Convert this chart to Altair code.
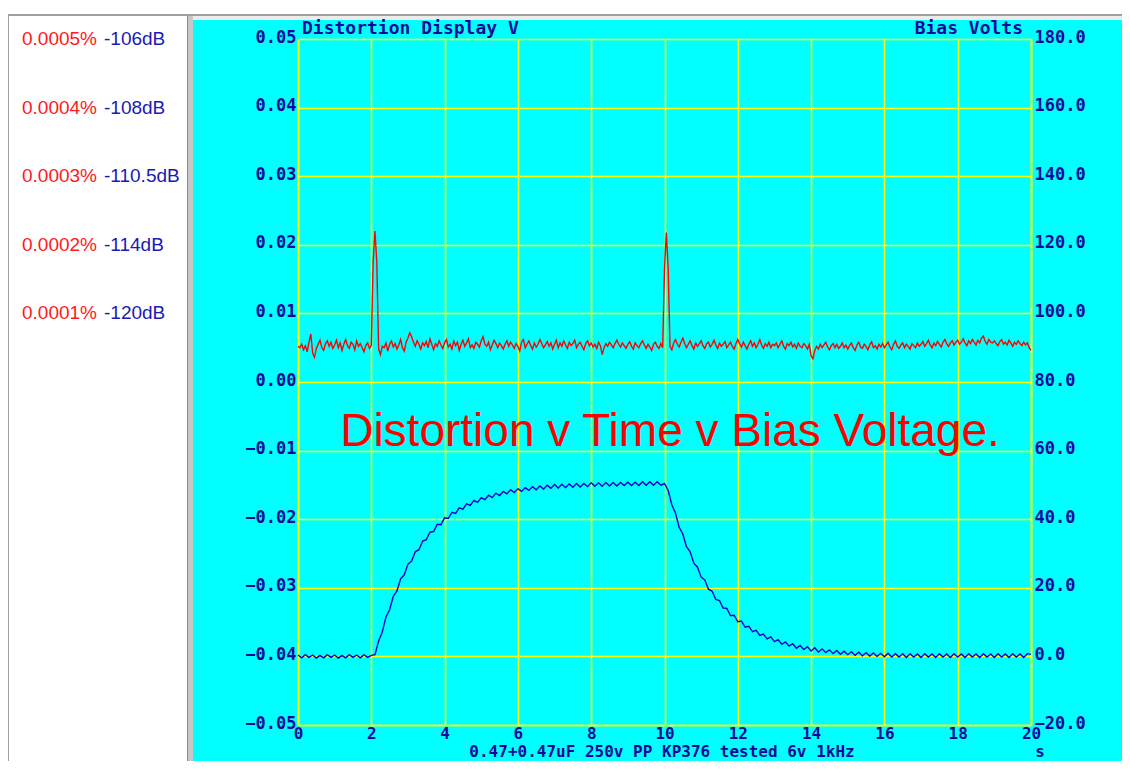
import altair as alt
import pandas as pd

# ---------------- data ----------------
# Distortion trace (left axis, volts) sampled every 0.05 s, in units of 0.1 mV
red_step = 0.05
red_tenth_mv = [
    52, 50, 55, 47, 53, 44, 58, 70, 42, 36, 49, 55, 61, 50, 46, 56, 60, 52, 58, 49,
    54, 61, 50, 57, 46, 55, 62, 53, 49, 58, 55, 47, 60, 52, 56, 50, 44, 53, 57, 49,
    53, 175, 220, 175, 48, 40, 52, 50, 57, 45, 55, 60, 51, 56, 48, 54, 62, 50, 45, 58,
    64, 72, 66, 58, 52, 60, 55, 48, 57, 53, 59, 50, 63, 55, 47, 56, 52, 60, 54, 49,
    57, 62, 51, 55, 48, 60, 53, 58, 46, 55, 61, 52, 57, 63, 50, 54, 49, 58, 55, 51,
    60, 66, 55, 52, 58, 47, 54, 61, 56, 50, 57, 53, 48, 55, 60, 52, 58, 54, 49, 56,
    52, 45, 58, 62, 50, 55, 60, 53, 48, 57, 51, 55, 62, 56, 50, 54, 59, 52, 57, 48,
    55, 61, 50, 57, 52, 60, 54, 49, 58, 53, 56, 61, 50, 55, 58, 52, 47, 56, 60, 53,
    57, 51, 55, 49, 58, 53, 40, 50, 56, 52, 58, 54, 50, 56, 61, 55, 51, 57, 53, 49,
    55, 59, 52, 48, 57, 53, 50, 56, 60, 54, 49, 55, 51, 46, 55, 58, 52, 49, 56, 50,
    165, 218, 165, 52, 47, 57, 62, 55, 51, 58, 64, 56, 50, 55, 60, 53, 48, 57, 52, 56,
    60, 53, 49, 56, 58, 51, 55, 61, 54, 49, 57, 52, 55, 59, 50, 54, 58, 52, 48, 56,
    62, 56, 51, 58, 53, 48, 55, 60, 52, 57, 50, 55, 62, 54, 49, 56, 52, 58, 50, 55,
    53, 57, 50, 55, 60, 52, 48, 56, 53, 58, 51, 55, 49, 57, 52, 50, 56, 53, 48, 55,
    38, 34, 46, 52, 48, 55, 50, 54, 58, 51, 47, 53, 56, 50, 55, 49, 52, 57, 50, 54,
    48, 53, 57, 50, 46, 54, 58, 51, 49, 55, 52, 47, 54, 59, 50, 53, 48, 55, 51, 56,
    50, 54, 58, 51, 47, 55, 60, 52, 49, 54, 57, 50, 55, 52, 48, 56, 53, 50, 57, 52,
    55, 59, 52, 56, 61, 54, 50, 57, 53, 59, 55, 51, 58, 62, 56, 52, 57, 60, 54, 58,
    61, 55, 58, 63, 57, 53, 60, 56, 62, 58, 54, 61, 57, 64, 67, 59, 55, 62, 58, 57,
    60, 56, 53, 59, 62, 55, 58, 54, 61, 57, 52, 58, 55, 60, 56, 53, 58, 54, 57, 50,
    46,
]

# Bias voltage trace (right axis, volts) sampled every 0.1 s
blue_step = 0.1
blue_volts = [
    0.4, -0.4, 0.5, -0.3, 0.4, -0.5, 0.3, -0.4, 0.5, -0.3,
    0.4, -0.5, 0.3, -0.4, 0.5, -0.3, 0.4, -0.4, 0.5, -0.3,
    0.3, 0.5, 4.5, 7.1, 11.5, 13.6, 17.5, 19.1, 22.6, 23.8,
    26.9, 27.8, 30.5, 31.1, 33.6, 34.0, 36.2, 36.4, 38.5, 38.4,
    40.4, 40.2, 42.0, 41.7, 43.3, 42.9, 44.5, 44.0, 45.5, 44.9,
    46.3, 45.7, 47.0, 46.3, 47.6, 46.9, 48.1, 47.4, 48.6, 47.8,
    48.9, 48.1, 49.2, 48.4, 49.5, 48.6, 49.7, 48.8, 49.9, 49.0,
    50.1, 49.1, 50.2, 49.2, 50.3, 49.3, 50.4, 49.4, 50.4, 49.5,
    50.6, 49.6, 50.6, 49.6, 50.7, 49.7, 50.7, 49.7, 50.7, 49.8,
    50.8, 49.8, 50.8, 49.8, 50.9, 49.9, 50.9, 49.9, 50.9, 49.9,
    50.4, 48.4, 44.2, 41.8, 37.6, 35.7, 32.0, 30.5, 27.2, 26.0,
    23.1, 22.3, 19.6, 19.0, 16.6, 16.3, 14.1, 14.0, 11.9, 12.0,
    10.1, 10.3, 8.5, 8.8, 7.2, 7.6, 6.1, 6.5, 5.1, 5.7,
    4.3, 4.9, 3.5, 4.2, 3.0, 3.7, 2.4, 3.2, 2.0, 2.8,
    1.6, 2.5, 1.3, 2.2, 1.1, 1.9, 0.8, 1.7, 0.6, 1.5,
    0.5, 1.4, 0.3, 1.2, 0.2, 1.1, 0.1, 1.0, 0.0, 0.9,
    -0.1, 0.9, -0.2, 0.8, -0.2, 0.8, -0.3, 0.8, -0.2, 0.7,
    -0.3, 0.8, -0.2, 0.7, -0.3, 0.8, -0.2, 0.7, -0.3, 0.8,
    -0.2, 0.7, -0.3, 0.8, -0.2, 0.7, -0.3, 0.8, -0.2, 0.7,
    -0.3, 0.8, -0.2, 0.7, -0.3, 0.8, -0.2, 0.7, -0.3, 0.8,
    0.6,
]

x_ticks = [0, 2, 4, 6, 8, 10, 12, 14, 16, 18, 20]
left_ticks = [-0.05, -0.04, -0.03, -0.02, -0.01, 0.0, 0.01, 0.02, 0.03, 0.04, 0.05]
right_ticks = [-20, 0, 20, 40, 60, 80, 100, 120, 140, 160, 180]

panel_level = [0.05, 0.04, 0.03, 0.02, 0.01]
panel_pct = ["0.0005%", "0.0004%", "0.0003%", "0.0002%", "0.0001%"]
panel_db = ["-106dB", "-108dB", "-110.5dB", "-114dB", "-120dB"]

note_t = [10.15]
note_v = [-0.0093]
note_text = ["Distortion v Time v Bias Voltage."]

title_left = "Distortion Display V"
title_right = "Bias Volts"
caption = "0.47+0.47uF 250v PP KP376 tested 6v 1kHz"
x_unit = "s"

# ---------------- tables ----------------
red_df = pd.DataFrame({
    "t": [round(i * red_step, 3) for i in range(len(red_tenth_mv))],
    "v": [x / 10000 for x in red_tenth_mv],
})
blue_df = pd.DataFrame({
    "t": [round(i * blue_step, 3) for i in range(len(blue_volts))],
    "b": blue_volts,
})
panel_df = pd.DataFrame({"v": panel_level, "pct": panel_pct, "db": panel_db})
note_df = pd.DataFrame({"t": note_t, "v": note_v, "label": note_text})
one = pd.DataFrame({"k": [0]})

# ---------------- styling ----------------
CYAN = "#00FFFF"
YELLOW = "#FFFF00"
NAVY = "#0A0A9A"
MONO = "DejaVu Sans Mono"
GRID_W = 1.6
TOP = 31      # plot top offset inside the chart
BOTTOM = 36   # space below the plot

x_axis = alt.Axis(values=x_ticks, format="d", title=None, ticks=False,
                  domainColor=YELLOW, domainWidth=GRID_W, grid=True, gridColor=YELLOW,
                  gridWidth=GRID_W, gridOpacity=1, labelFont=MONO, labelFontSize=16,
                  labelFontWeight="bold", labelColor=NAVY, labelPadding=0,
                  labelFlush=False, labelOverlap=False)
left_axis = alt.Axis(values=left_ticks, format=".2f", title=None, ticks=False,
                     domainColor=YELLOW, domainWidth=GRID_W, grid=True, gridColor=YELLOW,
                     gridWidth=GRID_W, gridOpacity=1, labelFont=MONO, labelFontSize=17,
                     labelFontWeight="bold", labelColor=NAVY, labelPadding=2,
                     labelOffset=-2,
                     labelFlush=False, labelOverlap=False, labelBaseline="middle")
right_axis = alt.Axis(values=right_ticks, format=".1f", title=None, ticks=False,
                      orient="right", domainColor=YELLOW, domainWidth=GRID_W, grid=False,
                      labelFont=MONO, labelFontSize=17, labelFontWeight="bold",
                      labelColor=NAVY, labelPadding=3, labelOffset=-2, labelFlush=False,
                      labelOverlap=False, labelBaseline="middle")

X = alt.X("t:Q", scale=alt.Scale(domain=[0, 20], nice=False, zero=False), axis=x_axis)
YL = alt.Y("v:Q", scale=alt.Scale(domain=[-0.05, 0.05], nice=False, zero=False), axis=left_axis)
YR = alt.Y("b:Q", scale=alt.Scale(domain=[-20, 180], nice=False, zero=False), axis=right_axis)


def rect(x1, x2, y1, y2, color):
    return alt.Chart(one).mark_rect(color=color, opacity=1).encode(
        x=alt.value(x1), x2=alt.value(x2), y=alt.value(y1), y2=alt.value(y2))


bottom_edge = 686 + BOTTOM
decor = [
    rect(-290, 824, -TOP, -TOP + 6, "white"),
    rect(-290, 824, -TOP + 6, -TOP + 8, "#A0A0A0"),
    rect(-105, 824, -TOP + 8, -TOP + 12, "#ECECEC"),
    rect(-290, -111, -TOP + 8, bottom_edge, "white"),
    rect(-111, -105, -TOP + 8, bottom_edge, "#C8C8C8"),
    rect(-111, -110, -TOP + 8, bottom_edge, "#888888"),
    rect(-290, -289, -TOP + 6, bottom_edge, "#A0A0A0"),
]

red_line = alt.Chart(red_df).mark_line(color="#FF0000", strokeWidth=1.4).encode(x=X, y=YL)

pct_text = alt.Chart(panel_df).mark_text(
    font="Liberation Sans", fontSize=19, color="#FF1A1A", align="right",
    baseline="middle", dy=0).encode(x=alt.value(-201), y=YL, text="pct:N")
db_text = alt.Chart(panel_df).mark_text(
    font="Liberation Sans", fontSize=19, color="#1A1AB4", align="left",
    baseline="middle", dy=0).encode(x=alt.value(-194), y=YL, text="db:N")

note = alt.Chart(note_df).mark_text(
    font="Liberation Sans", fontSize=46, color="#FF0000", align="center",
    baseline="alphabetic").encode(x=X, y=YL, text="label:N")


def label(txt, x, y, align, baseline="middle", size=18):
    return alt.Chart(one).mark_text(
        text=txt, font=MONO, fontSize=size, fontWeight="bold", color=NAVY,
        align=align, baseline=baseline).encode(x=alt.value(x), y=alt.value(y))


titles = [
    label(title_left, 4, -10, "left"),
    label(title_right, 725, -10, "right"),
    label(caption, 364, 718, "center", "alphabetic", 16),
    label(x_unit, 742, 718, "center", "alphabetic", 16),
]

left_group = alt.layer(*decor, red_line, pct_text, db_text, note, *titles)
blue_line = alt.Chart(blue_df).mark_line(color="#0000CC", strokeWidth=1.4).encode(x=X, y=YR)
right_group = alt.layer(blue_line)

chart = alt.layer(left_group, right_group).resolve_scale(y="independent").properties(
    width=733, height=686,
    autosize=alt.AutoSizeParams(type="none"),
    padding={"left": 290, "top": TOP, "right": 91, "bottom": BOTTOM},
    background=CYAN,
).configure_view(stroke=None)

chart.save("out.html", embed_options={"renderer": "svg", "actions": False})
